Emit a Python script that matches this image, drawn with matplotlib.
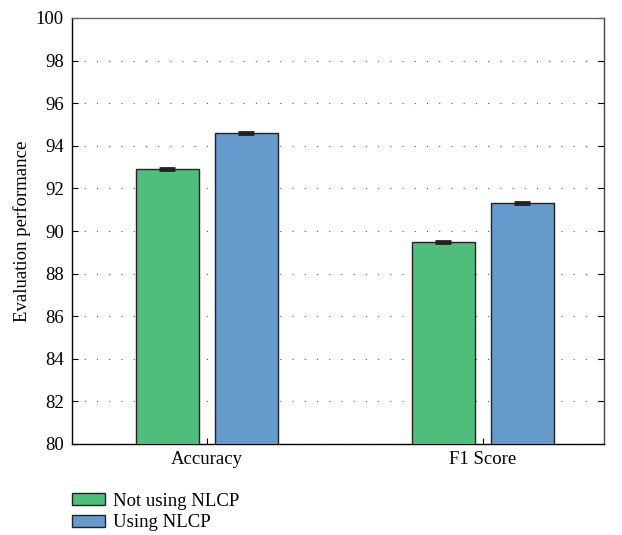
import matplotlib
matplotlib.use("Agg")
import matplotlib.pyplot as plt
import numpy as np

categories = ["Accuracy", "F1 Score"]
series_names = ["Not using NLCP", "Using NLCP"]
not_using = [92.9, 89.5]
using = [94.6, 91.3]
err_not = [0.05, 0.05]
err_using = [0.05, 0.05]
yticks = [80, 82, 84, 86, 88, 90, 92, 94, 96, 98, 100]

plt.rcParams['font.family'] = ['Liberation Serif', 'DejaVu Serif']

fig = plt.figure(figsize=(6.22, 5.35), dpi=100)
W, H = 622, 535
ax = fig.add_axes([72 / W, 1 - 444 / H, (604 - 72) / W, (444 - 18) / H])

x = np.array([1.0, 2.0])
off = 0.143
w = 0.228
green = "#4fbd7b"
blue = "#6699cc"
b1 = ax.bar(x - off, not_using, w, color=green, edgecolor="#222222", linewidth=1.0,
            yerr=err_not, error_kw=dict(ecolor="#222222", capsize=6, elinewidth=1, capthick=2), zorder=3,
            label=series_names[0])
b2 = ax.bar(x + off, using, w, color=blue, edgecolor="#222222", linewidth=1.0,
            yerr=err_using, error_kw=dict(ecolor="#222222", capsize=6, elinewidth=1, capthick=2), zorder=3,
            label=series_names[1])

ax.set_xlim(0.511, 2.44)
ax.set_ylim(80, 100)
ax.set_yticks(yticks)
ax.set_xticks(x)
ax.set_xticklabels(categories, fontsize=13.5)
ax.tick_params(axis='y', direction='in', labelsize=13.5, length=4, right=True, pad=6)
ax.tick_params(axis='x', direction='in', length=4, pad=5)
ax.yaxis.grid(True, linestyle=(0, (1, 10)), color="#555555", linewidth=0.8, zorder=0)
ax.set_ylabel("Evaluation performance", fontsize=13.5, labelpad=3)
for s in ax.spines.values():
    s.set_linewidth(1.0)
ax.spines['top'].set_color("#666666")
ax.spines['right'].set_color("#444444")

fig.legend(handles=[b1, b2], labels=series_names, loc="upper left",
           bbox_to_anchor=(64 / W, 1 - 485 / H), frameon=False, fontsize=13.5,
           handlelength=1.8, handleheight=0.6, labelspacing=0.25, handletextpad=0.4,
           borderaxespad=0)

fig.savefig("out.png", dpi=100)
